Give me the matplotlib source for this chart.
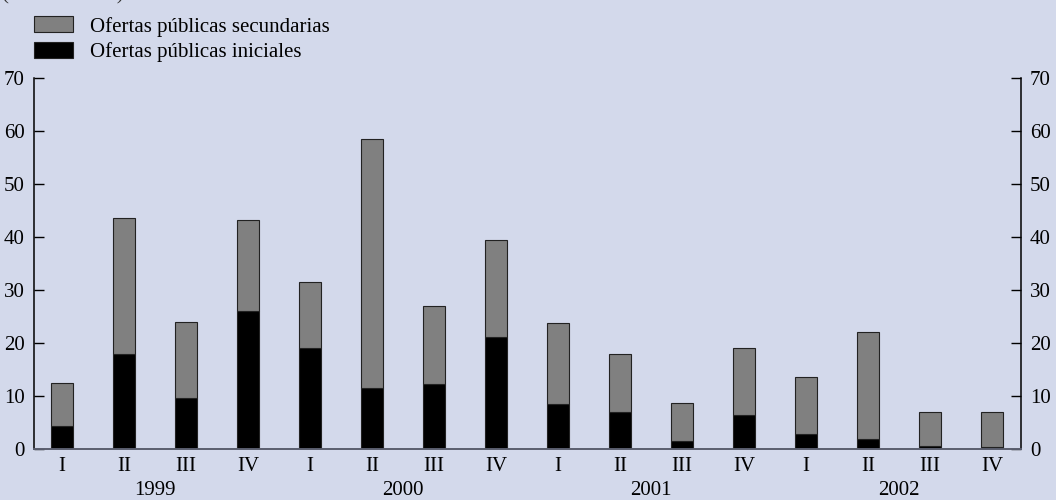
import matplotlib
matplotlib.use("Agg")
import matplotlib.pyplot as plt
import numpy as np

quarters = ["I", "II", "III", "IV"] * 4
years = ["1999", "2000", "2001", "2002"]
secundarias_total = [12.4, 43.6, 24.0, 43.3, 31.5, 58.5, 27.0, 39.4,
                     23.8, 18.0, 8.6, 19.1, 13.5, 22.0, 7.0, 7.0]
iniciales = [4.3, 18.0, 9.6, 26.0, 19.0, 11.6, 12.2, 21.2,
             8.5, 7.0, 1.5, 6.4, 2.9, 1.8, 0.5, 0.3]
secundarias = [t - i for t, i in zip(secundarias_total, iniciales)]
yticks = [0, 10, 20, 30, 40, 50, 60, 70]

bg = "#D3D9EB"
fs = 15
plt.rcParams["font.family"] = ["Liberation Serif", "DejaVu Serif"]

fig = plt.figure(figsize=(10.56, 5.0), dpi=100, facecolor=bg)
ax = fig.add_axes([34 / 1056, 1 - 449 / 500, (1021 - 34) / 1056, (449 - 78) / 500])
ax.set_facecolor(bg)

x = np.arange(len(quarters))
w = 0.355
b1 = ax.bar(x, iniciales, width=w, color="black", edgecolor="#222222",
            linewidth=0.8, label="Ofertas públicas iniciales", zorder=3)
b2 = ax.bar(x, secundarias, width=w, bottom=iniciales, color="#808080",
            edgecolor="#222222", linewidth=0.8,
            label="Ofertas públicas secundarias", zorder=3)

ax.set_xlim(-0.45, 15.47)
ax.set_ylim(0, 70)
ax.set_yticks(yticks)
ax.set_xticks(x)
ax.set_xticklabels(quarters, fontsize=fs)
ax.tick_params(axis="x", length=0, pad=6)
ax.tick_params(axis="y", direction="in", length=7, width=1, labelsize=fs,
               left=True, right=True, labelleft=True, labelright=True, pad=6.5)

ax.spines["top"].set_visible(False)
ax.spines["left"].set_linewidth(1.1)
ax.spines["right"].set_linewidth(1.1)
ax.spines["bottom"].set_color("#5A5E6E")
ax.spines["bottom"].set_linewidth(1.4)
ax.spines["bottom"].set_zorder(4)

for k, yr in enumerate(years):
    ax.text(4 * k + 1.5, -7.8, yr, ha="center", va="center", fontsize=fs)

ax.legend(handles=[b2, b1], loc="upper left",
          bbox_to_anchor=(26 / 1056, 1 - 8 / 500), bbox_transform=fig.transFigure,
          frameon=False, fontsize=fs, handlelength=1.85, handleheight=0.8,
          handletextpad=0.8, labelspacing=0.25, borderaxespad=0)

fig.text(2 / 1056, 1 + 5 / 500, "(mm de euros)", fontsize=fs, ha="left", va="center",
         color="#333333")

fig.savefig("out.png", dpi=100, facecolor=bg)
